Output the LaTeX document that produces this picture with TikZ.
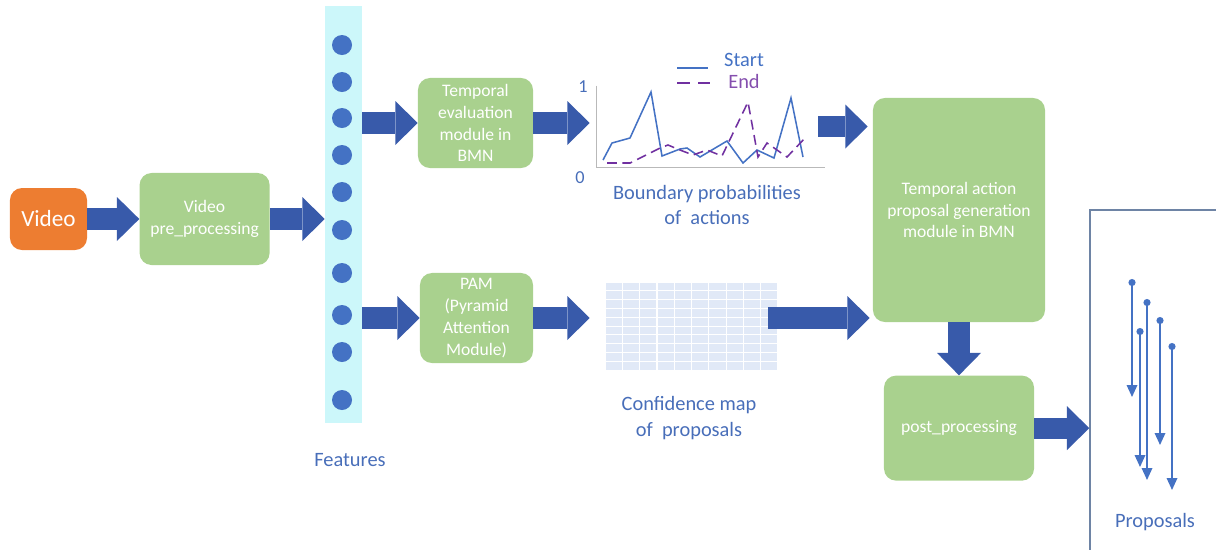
\documentclass[tikz,border=0pt]{standalone}
\usepackage{fontspec}
\setmainfont{Carlito}
\usetikzlibrary{arrows.meta,positioning}

\definecolor{boxgreen}{RGB}{169,209,142}
\definecolor{vidorange}{RGB}{237,125,49}
\definecolor{fatblue}{RGB}{56,90,170}
\definecolor{lineblue}{RGB}{68,114,196}
\definecolor{txtblue}{RGB}{72,110,185}
\definecolor{endpurple}{RGB}{112,48,160}
\definecolor{featcyan}{RGB}{204,247,250}
\definecolor{cellblue}{RGB}{225,233,247}
\definecolor{framegray}{RGB}{110,132,165}

\tikzset{
  box/.style={rectangle, rounded corners=0.3cm, fill=boxgreen, text=white, align=center,
    font=\fontsize{12.5}{15.5}\selectfont, inner sep=2pt},
  fat/.style={draw=fatblue, line width=0.53cm,
    -{Triangle[length=0.56cm, width=1.1cm, line width=0pt]}},
  lbl/.style={text=txtblue, align=center, font=\fontsize{14.5}{18}\selectfont},
  prop/.style={draw=lineblue, line width=1.1pt,
    {Circle[length=5pt]}-{Triangle[length=8.5pt, width=7.5pt]}}
}

\begin{document}
\begin{tikzpicture}[x=0.025cm, y=-0.025cm]
\useasboundingbox (0,0) rectangle (1216,549);

% input and pre-processing
\node[box, fill=vidorange, minimum width=1.925cm, minimum height=1.55cm,
  font=\fontsize{16.5}{20}\selectfont] (video) at (48.5,219) {Video};
\node[box, minimum width=3.25cm, minimum height=2.3cm, right=1.3cm of video] (pre) {Video\\pre\_processing};

% feature column
\node[fill=featcyan, minimum width=0.925cm, minimum height=10.4cm, inner sep=0] (feat) at (343.5,214.5) {};
\foreach \y in {45,82,118,155,192,230,273,315,352,400}
  \fill[lineblue] (342,\y) circle (0.25cm);
\node[lbl] (featlbl) at (350,460) {Features};

% the two BMN branches
\node[box, minimum width=2.875cm, minimum height=2.25cm] (tem) at (475.5,123) {Temporal\\evaluation\\module in\\BMN};
\node[box, minimum width=2.825cm, minimum height=2.25cm] (pam) at (476.5,318) {PAM\\(Pyramid\\Attention\\Module)};

% boundary probabilities plot
\node[minimum width=5.7cm, minimum height=2.025cm, inner sep=0] (probs) at (711,126.5) {};
\draw[gray!55, line width=0.8pt] (probs.north west) |- (probs.south east);
\node[lbl, font=\fontsize{13}{15}\selectfont] (one) at (583,87) {1};
\node[lbl, font=\fontsize{13}{15}\selectfont] (zero) at (580,178) {0};
\draw[lineblue, line width=1.1pt] plot coordinates {(603,160) (612,143) (630,138) (651,92) (662,156) (680,149)
  (687,148) (700,157) (727,141) (743,163) (757,150) (774,158) (791,98) (803,157)};
\draw[endpurple, line width=1.1pt, dash pattern=on 7pt off 4pt] plot coordinates {(607,163) (630,163) (660,148)
  (668,145) (680,150) (693,155) (707,150) (722,156) (748,102) (758,157) (767,143) (787,157) (805,138)};
\draw[lineblue, line width=1.1pt] (677,68) -- (708,68);
\node[lbl, text=lineblue] (startlbl) at (744,60) {Start};
\draw[endpurple, line width=1.1pt, dash pattern=on 9pt off 6pt] (677,83) -- (710,83);
\node[lbl, text=endpurple!85!white] (endlbl) at (744,81) {End};
\node[lbl] (bplbl) at (707,205) {Boundary probabilities\\of~ actions};

% confidence map
\node[minimum width=4.325cm, minimum height=2.2cm, inner sep=0] (conf) at (691.5,326) {};
\foreach \i in {0,...,9}
  \foreach \j in {0,...,9}
    \fill[cellblue] (605.6+\i*17.3, 282.5+\j*8.8) rectangle ++(16.1,7.9);
\node[lbl] (cmlbl) at (689,418) {Confidence map\\of~ proposals};

% proposal generation and post-processing
\node[box, minimum width=4.3cm, minimum height=5.6cm] (gen) at (959,210) {Temporal action\\proposal generation\\module in BMN};
\node[box, minimum width=3.75cm, minimum height=2.625cm, below=1.325cm of gen] (post) {post\_processing};

% proposals panel
\node[draw=framegray, line width=1pt, minimum width=3.5cm, minimum height=8.75cm, inner sep=0] (props) at (1160,385) {};
\foreach \x/\a/\b in {1132/279/397, 1140/328/467, 1147/299/480, 1160/317/445, 1172/343/490}
  \draw[prop] (\x,\a) -- (\x,\b);
\node[lbl] (proplbl) at (1155,522) {Proposals};

% big arrows
\draw[fat] (video) -- (pre);
\draw[fat] (pre) -- (pre -| feat.west);
\draw[fat] (feat.east |- tem) -- (tem);
\draw[fat] (feat.east |- pam) -- (pam);
\draw[fat, shorten >=0.175cm] (tem) -- (tem -| probs.west);
\draw[fat, shorten <=-0.175cm, shorten >=0.125cm] (probs.east) -- (probs.east -| gen.west);
\draw[fat, shorten >=0.375cm] (pam) -- (pam -| conf.west);
\draw[fat, shorten <=-0.25cm, shorten >=0.075cm] (conf.east |- pam) -- (pam -| gen.west);
\draw[fat] (gen.south) -- (gen.south |- post.north);
\draw[fat] (post) -- (post -| props.west);

\end{tikzpicture}
\end{document}
